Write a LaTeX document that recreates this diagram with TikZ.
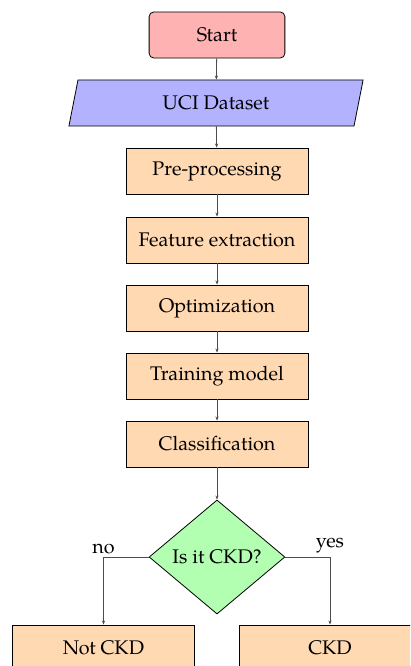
\documentclass[tikz,border=0pt]{standalone}
\usepackage{fontspec}
\setmainfont{TeX Gyre Pagella}
\usetikzlibrary{shapes.geometric,arrows.meta}

\tikzset{
  startstop/.style={rectangle, rounded corners=3pt, minimum width=3cm, minimum height=1.02cm,
    align=center, draw=black, line width=0.5pt, fill=red!30},
  io/.style={trapezium, trapezium left angle=70, trapezium right angle=110,
    trapezium stretches body=true, minimum width=6.5cm, minimum height=1.02cm,
    align=center, draw=black, line width=0.5pt, fill=blue!30},
  process/.style={rectangle, minimum width=4.02cm, minimum height=1.02cm,
    align=center, draw=black, line width=0.5pt, fill=orange!30},
  decision/.style={diamond, minimum width=3cm, minimum height=2.52cm, inner sep=0pt,
    align=center, draw=black, line width=0.5pt, fill=green!30},
  flow/.style={draw=black!70, line width=0.5pt, -{Stealth[length=2.5pt,width=2pt]}},
  branchlabel/.style={above, inner sep=2pt, text=black}
}

\begin{document}
\begin{tikzpicture}[x=0.0221cm, y=-0.0221cm, font=\fontsize{12.4}{14.5}\selectfont]
  \clip (0,0) rectangle (410,666);
  \useasboundingbox (0,0) rectangle (410,666);

  \node[startstop] (start) at (217,35)  {Start};
  \node[io]        (data)  at (216,103) {UCI Dataset};
  \node[process]   (pre)   at (217,171) {Pre-processing};
  \node[process]   (feat)  at (217,240) {Feature extraction};
  \node[process]   (opt)   at (217,308) {Optimization};
  \node[process]   (train) at (217,376) {Training model};
  \node[process]   (cls)   at (217,444) {Classification};
  \node[decision]  (ckdq)  at (217,557) {Is it CKD?};
  \node[process]   (neg)   at (103.5,648) {Not CKD};
  \node[process]   (pos)   at (330,648) {CKD};

  \draw[flow] (start) -- (data);
  \draw[flow] (data) -- (pre);
  \draw[flow] (pre) -- (feat);
  \draw[flow] (feat) -- (opt);
  \draw[flow] (opt) -- (train);
  \draw[flow] (train) -- (cls);
  \draw[flow] (cls) -- (ckdq);
  \draw[flow] (ckdq.west) -| node[branchlabel, pos=0.5] {no} (neg.north);
  \draw[flow] (ckdq.east) -| node[branchlabel, pos=0.5] {yes} (pos.north);
\end{tikzpicture}
\end{document}
